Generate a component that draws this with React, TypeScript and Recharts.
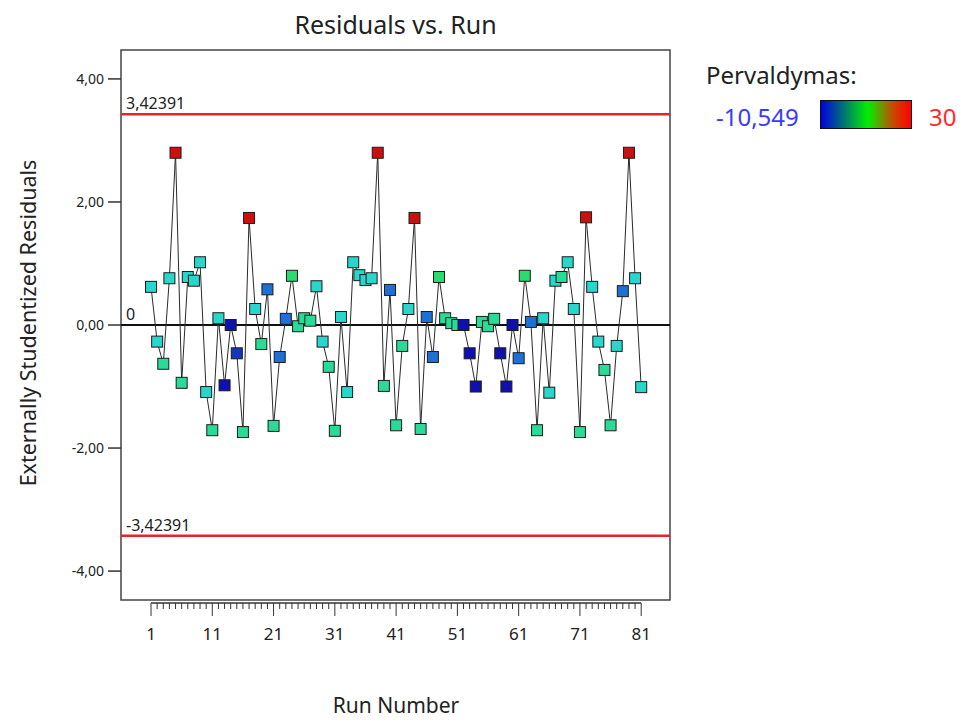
import React from "react";
import { Line, LineChart, ReferenceArea, ReferenceLine, XAxis, YAxis } from "recharts";

// Externally studentized residual for each run (run number = index + 1)
const residuals = [
  0.62, -0.27, -0.63, 0.76, 2.8, -0.94, 0.78, 0.72, 1.02, -1.09,
  -1.71, 0.11, -0.98, 0.0, -0.46, -1.74, 1.74, 0.26, -0.31, 0.58,
  -1.64, -0.52, 0.1, 0.8, -0.02, 0.11, 0.07, 0.63, -0.27, -0.68,
  -1.72, 0.13, -1.09, 1.02, 0.81, 0.73, 0.76, 2.8, -0.99, 0.57,
  -1.63, -0.34, 0.26, 1.74, -1.69, 0.13, -0.52, 0.78, 0.11, 0.03,
  0.0, 0.0, -0.46, -1.0, 0.05, -0.02, 0.1, -0.46, -1.0, 0.0,
  -0.54, 0.8, 0.05, -1.71, 0.11, -1.1, 0.72, 0.78, 1.02, 0.26,
  -1.74, 1.75, 0.62, -0.27, -0.73, -1.63, -0.34, 0.55, 2.8, 0.76,
  -1.01,
];

// "Pervaldymas" value used to colour each point
const pervaldymas = [
  2, 2, 6, 2, 30, 6, 2, 2, 2, 2,
  6, 2, -10.549, -10.549, -8, 6, 30, 2, 6, -4,
  6, -4, -4, 10, 6, 6, 6, 2, 2, 6,
  6, 2, 2, 2, 2, 2, 2, 30, 6, -4,
  6, 6, 2, 30, 6, -4, -4, 10, 6, 6,
  6, -10.549, -10.549, -10.549, 6, 6, 6, -10.549, -10.549, -10.549,
  -4, 10, -4, 6, 2, 2, 2, 6, 2, 2,
  6, 30, 2, 2, 6, 6, 2, -4, 30, 2,
  2,
];

const runTicks = residuals.map((_, i) => i + 1);
const yTicks = [-4, -2, 0, 2, 4];
const limit = 3.42391;
const colorMin = -10.549;
const colorMax = 30;

const data = residuals.map((r, i) => ({ run: i + 1, resid: r, perv: pervaldymas[i] }));

const W = 975;
const H = 720;
const PLOT_LEFT = 121;
const PLOT_RIGHT = 670;
const PLOT_TOP = 50;
const PLOT_BOTTOM = 600;
const X_MIN = -3.9;
const X_MAX = 85.7;
const Y_MIN = -4.47;
const Y_MAX = 4.47;
const PX_PER_RUN = (PLOT_RIGHT - PLOT_LEFT) / (X_MAX - X_MIN);
const FONT = "'Noto Sans', 'Open Sans', sans-serif";

// colour ramp used for the markers
const stops: [number, number[]][] = [
  [0, [16, 16, 176]],
  [0.16, [30, 110, 214]],
  [0.31, [40, 214, 204]],
  [0.41, [40, 220, 150]],
  [0.51, [40, 220, 110]],
  [1, [204, 16, 16]],
];

function rampColor(v: number) {
  const t = Math.min(1, Math.max(0, (v - colorMin) / (colorMax - colorMin)));
  for (let i = 1; i < stops.length; i++) {
    const [t1, c1] = stops[i];
    const [t0, c0] = stops[i - 1];
    if (t <= t1) {
      const f = (t - t0) / (t1 - t0);
      const c = c0.map((a, k) => Math.round(a + (c1[k] - a) * f));
      return `rgb(${c[0]},${c[1]},${c[2]})`;
    }
  }
  return "rgb(204,16,16)";
}

const SquareDot = (props: any) => {
  const { cx, cy, payload, index } = props;
  if (cx == null || cy == null) return null;
  const s = 11;
  return (
    <rect
      key={`dot-${index}`}
      x={cx - s / 2}
      y={cy - s / 2}
      width={s}
      height={s}
      fill={rampColor(payload.perv)}
      stroke="#1c1c1c"
      strokeWidth={1}
    />
  );
};

const RunTick = (props: any) => {
  const { x, payload } = props;
  const v = payload.value as number;
  const major = (v - 1) % 10 === 0;
  const axisY = PLOT_BOTTOM + 3;
  return (
    <g>
      {v === 1 && (
        <line x1={x} y1={axisY} x2={x + 80 * PX_PER_RUN} y2={axisY} stroke="#333" strokeWidth={1.5} />
      )}
      <line x1={x} y1={axisY} x2={x} y2={axisY + (major ? 13 : 6)} stroke="#333" strokeWidth={1} />
      {major && (
        <text x={x} y={axisY + 37} textAnchor="middle" fontSize={17} fill="#222" fontFamily={FONT}>
          {v}
        </text>
      )}
    </g>
  );
};

const fmt = (v: number) => v.toFixed(2).replace(".", ",");

const lineLabel = (value: string) => ({
  value,
  position: "insideBottomLeft" as const,
  fontSize: 16,
  fill: "#222",
  fontFamily: FONT,
});

export default function App() {
  return (
    <div style={{ position: "absolute", left: 0, top: 0, width: W, height: H, background: "#fff", fontFamily: FONT }}>
      <LineChart
        width={W}
        height={H}
        data={data}
        margin={{ top: PLOT_TOP, right: W - PLOT_RIGHT, bottom: 70, left: 0 }}
      >
        <XAxis
          dataKey="run"
          type="number"
          domain={[X_MIN, X_MAX]}
          ticks={runTicks}
          interval={0}
          allowDataOverflow
          axisLine={false}
          tickLine={false}
          height={H - PLOT_BOTTOM - 70}
          tick={<RunTick />}
        />
        <YAxis
          type="number"
          domain={[Y_MIN, Y_MAX]}
          ticks={yTicks}
          allowDataOverflow
          width={PLOT_LEFT}
          axisLine={false}
          tickSize={13}
          tickMargin={4}
          tickLine={{ stroke: "#333", strokeWidth: 1.5 }}
          tickFormatter={fmt}
          tick={{ fontSize: 14, fill: "#222", fontFamily: FONT }}
        />
        <ReferenceArea
          x1={X_MIN}
          x2={X_MAX}
          y1={Y_MIN}
          y2={Y_MAX}
          fill="none"
          stroke="#444"
          strokeWidth={1.5}
          ifOverflow="visible"
        />
        <ReferenceLine y={limit} stroke="#e8242a" strokeWidth={2.5} label={lineLabel("3,42391")} />
        <ReferenceLine y={-limit} stroke="#e8242a" strokeWidth={2.5} label={lineLabel("-3,42391")} />
        <ReferenceLine y={0} stroke="#111" strokeWidth={2} label={lineLabel("0")} />
        <Line
          type="linear"
          dataKey="resid"
          stroke="#2a2a2a"
          strokeWidth={1}
          dot={<SquareDot />}
          activeDot={false}
          isAnimationActive={false}
        />
      </LineChart>

      <div style={{ position: "absolute", left: 0, width: 791, top: 7, textAlign: "center", fontSize: 25, lineHeight: "34px", color: "#222" }}>
        Residuals vs. Run
      </div>
      <div style={{ position: "absolute", left: 0, width: 792, top: 690, textAlign: "center", fontSize: 21, lineHeight: "30px", color: "#222" }}>
        Run Number
      </div>
      <div
        style={{
          position: "absolute",
          left: 28,
          top: 323,
          transform: "translate(-50%, -50%) rotate(-90deg)",
          whiteSpace: "nowrap",
          fontSize: 21.5,
          lineHeight: "30px",
          color: "#222",
        }}
      >
        Externally Studentized Residuals
      </div>

      <div style={{ position: "absolute", left: 706, top: 58, fontSize: 24, lineHeight: "34px", color: "#222" }}>Pervaldymas:</div>
      <div style={{ position: "absolute", left: 716, top: 100, fontSize: 24, lineHeight: "34px", color: "#3a3aff" }}>-10,549</div>
      <div
        style={{
          position: "absolute",
          left: 820,
          top: 100,
          width: 90,
          height: 27,
          border: "1.5px solid #111",
          background: "linear-gradient(to right, #0000e0, #00f000 52%, #c84a00 80%, #ff0000)",
        }}
      />
      <div style={{ position: "absolute", left: 929, top: 100, fontSize: 24, lineHeight: "34px", color: "#ff2a2a" }}>30</div>
    </div>
  );
}
